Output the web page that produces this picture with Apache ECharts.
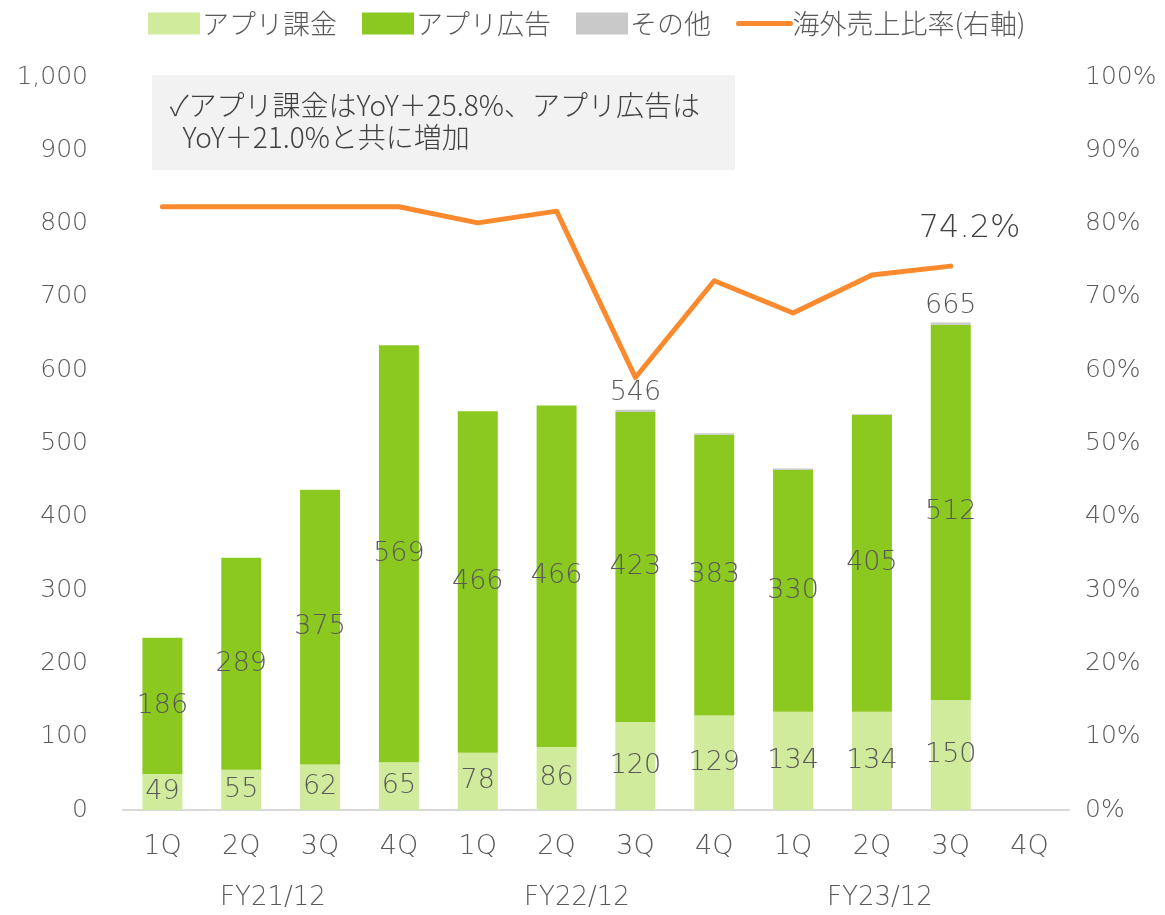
<!DOCTYPE html>
<html>
<head>
<meta charset="utf-8">
<script src="https://cdn.jsdelivr.net/npm/echarts@6/dist/echarts.min.js"></script>
<style>
  html, body { margin: 0; padding: 0; background: #fff; }
  #chart { width: 1165px; height: 915px; }
</style>
</head>
<body>
<div id="chart"></div>
<script>
const quarters = ['1Q', '2Q', '3Q', '4Q', '1Q', '2Q', '3Q', '4Q', '1Q', '2Q', '3Q', '4Q']
const fiscalYears = ['FY21/12', 'FY22/12', 'FY23/12']
const appBilling = [49, 55, 62, 65, 78, 86, 120, 129, 134, 134, 150, null]
const appAds = [186, 289, 375, 569, 466, 466, 423, 383, 330, 405, 512, null]
const others = [0, 0, 0, 0, 0, 0, 3, 2, 2, 1, 3, null]
const totalLabels = [null, null, null, null, null, null, 546, null, null, null, 665, null]
const overseasRatio = [82.3, 82.3, 82.3, 82.3, 80.1, 81.7, 59.0, 72.2, 67.8, 73.0, 74.2, null]
const leftTicks = [0, 1000, 100]
const rightTicks = [0, 100, 10]
const note = ['✓アプリ課金はYoY＋25.8%、アプリ広告は', '  YoY＋21.0%と共に増加']

const font = '"Noto Sans CJK JP", "Noto Sans", sans-serif'
const numFont = '"DejaVu Sans", "Noto Sans CJK JP", sans-serif'
const textColor = '#595959'

const chart = echarts.init(document.getElementById('chart'))

const barLabel = {
    show: true,
    position: 'inside',
    color: textColor,
    fontSize: 27,
    fontWeight: 200,
    fontFamily: numFont,
}

const option = {
    animation: false,
    textStyle: { fontFamily: font },
    legend: {
        top: 5,
        left: 143,
        itemWidth: 52,
        itemHeight: 22,
        itemGap: 25,
        textStyle: { color: textColor, fontSize: 27, fontWeight: 300, fontFamily: font, padding: [0, 0, 0, -3] },
        data: [
            { name: 'アプリ課金', icon: 'rect' },
            { name: 'アプリ広告', icon: 'rect' },
            { name: 'その他', icon: 'rect' },
            {
                name: '海外売上比率(右軸)',
                itemStyle: { opacity: 0 },
                lineStyle: { width: 5, cap: 'round', color: '#fb8a2e' },
            },
        ],
    },
    grid: { left: 123, right: 96, top: 77, bottom: 105 },
    xAxis: {
        type: 'category',
        data: quarters,
        axisLine: { lineStyle: { color: '#d9d9d9', width: 2 } },
        axisTick: { show: false },
        axisLabel: { color: textColor, fontSize: 27, fontWeight: 200, margin: 23, fontFamily: numFont },
    },
    yAxis: [
        {
            type: 'value',
            min: leftTicks[0],
            max: leftTicks[1],
            interval: leftTicks[2],
            splitLine: { show: false },
            axisLine: { show: false },
            axisLabel: {
                color: textColor,
                fontSize: 25,
                fontWeight: 200,
                margin: 35,
                fontFamily: numFont,
                formatter: (v) => v.toLocaleString('en-US'),
            },
        },
        {
            type: 'value',
            min: rightTicks[0],
            max: rightTicks[1],
            interval: rightTicks[2],
            splitLine: { show: false },
            axisLine: { show: false },
            axisLabel: {
                color: textColor,
                fontSize: 25,
                fontWeight: 200,
                margin: 16,
                fontFamily: numFont,
                formatter: '{value}%',
            },
        },
    ],
    series: [
        {
            name: 'アプリ課金',
            type: 'bar',
            stack: 'sales',
            barWidth: 40,
            data: appBilling,
            itemStyle: { color: '#cfeb9b' },
            label: barLabel,
        },
        {
            name: 'アプリ広告',
            type: 'bar',
            stack: 'sales',
            data: appAds,
            itemStyle: { color: '#8cc920' },
            label: barLabel,
        },
        {
            name: 'その他',
            type: 'bar',
            stack: 'sales',
            data: others,
            itemStyle: { color: '#c9c9c9' },
            label: {
                show: true,
                position: 'top',
                distance: 3,
                color: textColor,
                fontSize: 27,
                fontWeight: 200,
                fontFamily: numFont,
                formatter: (p) => (totalLabels[p.dataIndex] == null ? '' : String(totalLabels[p.dataIndex])),
            },
        },
        {
            name: '海外売上比率(右軸)',
            type: 'line',
            yAxisIndex: 1,
            data: overseasRatio,
            symbol: 'none',
            lineStyle: { color: '#fb8a2e', width: 5, cap: 'round', join: 'round' },
            itemStyle: { color: '#fb8a2e' },
            endLabel: {
                show: true,
                offset: [-40, -37],
                color: '#404040',
                fontSize: 32,
                fontWeight: 200,
                fontFamily: numFont,
                formatter: (p) => p.value.toFixed(1) + '%',
            },
        },
    ],
    graphic: [
        {
            type: 'rect',
            left: 152,
            top: 75,
            shape: { width: 583, height: 95 },
            style: { fill: '#f2f2f2' },
            silent: true,
        },
        {
            type: 'text',
            left: 170,
            top: 89,
            style: {
                text: note.join('\n'),
                fill: '#404040',
                font: '300 28px ' + font,
                lineHeight: 32,
            },
        },
        ...fiscalYears.map((t, i) => ({
            type: 'text',
            x: [273, 577, 880][i],
            y: 898,
            style: {
                text: t,
                fill: textColor,
                font: '200 26px ' + numFont,
                align: 'center',
                verticalAlign: 'middle',
            },
        })),
    ],
}

chart.setOption(option)
</script>
</body>
</html>
